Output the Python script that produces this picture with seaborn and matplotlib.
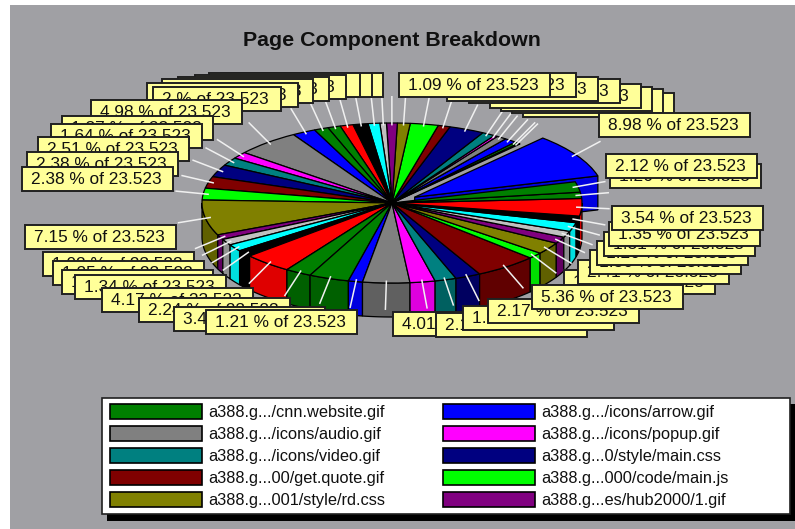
import numpy as np
import matplotlib
matplotlib.use('Agg')
import matplotlib.pyplot as plt
from matplotlib.patches import Rectangle, Patch
import seaborn as sns

# slices counter-clockwise, starting at the big blue one
slice_colors = ['#0000ff', '#008000', '#008000', '#0000ff', '#808080', '#ff00ff', '#008080',
                '#000080', '#800000', '#00ff00', '#808000', '#800080', '#c0c0c0', '#00ffff',
                '#000000', '#ff0000', '#008000', '#008000', '#0000ff', '#808080', '#ff00ff',
                '#008080', '#000080', '#800000', '#00ff00', '#808000', '#800080', '#c0c0c0',
                '#00ffff', '#000000', '#ff0000', '#008000', '#008000', '#0000ff', '#808080',
                '#ff00ff', '#008080', '#000080', '#800000', '#00ff00', '#808000', '#800080',
                '#c0c0c0', '#00ffff', '#000000', '#ff0000', '#008000', '#008000']
slice_values = [8.98, 0.19, 0.36, 1.03, 0.86, 0.31, 1.11, 3.0, 1.03, 2.39, 1.09, 0.92,
                0.56, 1.0, 1.28, 1.11, 1.08, 1.22, 2.0, 5.5, 1.37, 1.64, 2.51, 2.38,
                2.38, 7.15, 1.0, 1.25, 1.42, 1.34, 4.17, 2.24, 3.42, 1.21, 4.01, 2.14,
                1.83, 2.17, 5.36, 1.26, 2.41, 1.36, 1.26, 1.81, 1.35, 3.54, 1.26, 2.12]

legend_names = ['a388.g.../cnn.website.gif', 'a388.g.../icons/audio.gif', 'a388.g.../icons/video.gif',
                'a388.g...00/get.quote.gif', 'a388.g...001/style/rd.css', 'a388.g.../icons/arrow.gif',
                'a388.g.../icons/popup.gif', 'a388.g...0/style/main.css', 'a388.g...000/code/main.js',
                'a388.g...es/hub2000/1.gif']
legend_colors = ['#008000', '#808080', '#008080', '#800000', '#808000',
                 '#0000ff', '#ff00ff', '#000080', '#00ff00', '#800080']

# label boxes, back to front
box_pct = ['1.28', '1.08', '1.11', '1.28', '1.01', '0.56', '0.92', '2', '4.98', '1.37', '1.64',
           '2.51', '2.38', '2.38',
           '1.03', '0.86', '1.31', '1.11', '3.01', '1.03', '2.39', '1.09', '8.98',
           '1.26', '2.12',
           '4.01', '2.14', '1.83', '2.17', '1.26', '2.41', '1.36', '1.26', '1.81', '1.35', '3.54', '5.36',
           '7.15', '1.02', '1.25', '1.42', '1.34', '4.17', '2.24', '3.42', '1.21']
box_left = [232, 221, 209, 195, 178, 162, 147, 153, 91, 62, 51, 38, 27, 22,
            523, 512, 501, 490, 469, 447, 425, 399, 599,
            610, 606,
            393, 436, 463, 488, 564, 578, 590, 597, 604, 609, 612, 532,
            25, 43, 53, 62, 75, 102, 139, 174, 206]
box_top = [73, 73, 73, 75, 77, 79, 83, 87, 100, 116, 124, 137, 152, 167,
           93, 89, 87, 84, 79, 77, 73, 73, 113,
           164, 154,
           312, 313, 306, 299, 270, 260, 250, 241, 232, 222, 206, 285,
           225, 252, 261, 270, 275, 288, 298, 307, 310]

sns.set_theme(style='white')
plt.rcParams['font.family'] = ['Liberation Sans', 'DejaVu Sans']

fig = plt.figure(figsize=(7.95, 5.29), dpi=100, facecolor='white')

bg = fig.add_axes([0, 0, 1, 1])
bg.set_xlim(0, 795)
bg.set_ylim(529, 0)
bg.axis('off')
bg.add_patch(Rectangle((10, 5), 785, 524, fc='#a0a0a4', ec='none'))
bg.text(392, 41, 'Page Component Breakdown', ha='center', va='center',
        fontsize=15.4, fontweight='bold', color='#101010')

# pie axes: data +-1 falls on the ellipse of the top face
cx, cy, rx, ry, depth = 392, 203, 190, 80, 34
ax = fig.add_axes([0, 0, 1, 1], facecolor='none')
explode = [0.14] + [0] * (len(slice_values) - 1)
wedges, _ = ax.pie(slice_values, colors=sns.color_palette(slice_colors), startangle=15.4,
                   explode=explode, normalize=True,
                   wedgeprops={'edgecolor': 'black', 'linewidth': 0.9, 'zorder': 3})
ax.set_aspect('auto')
ax.set_xlim(-cx / rx, (795 - cx) / rx)
ax.set_ylim((cy - 529) / ry, cy / ry)
ax.axis('off')


def darker(color):
    r, g, b = matplotlib.colors.to_rgb(color)
    return tuple(0.875 * c if c > 0.9 else 0.75 * c for c in (r, g, b))


d = depth / ry
# walls of the front half
for w, color in zip(wedges, slice_colors):
    t1, t2 = w.theta1 % 360, w.theta2 % 360
    if t2 < t1:
        t2 += 360
    t1, t2 = max(t1, 180), min(t2, 360)
    if t2 <= t1:
        continue
    th = np.radians(np.linspace(t1, t2, 30))
    x = np.cos(th)
    y = np.sin(th)
    ax.fill(np.r_[x, x[::-1]], np.r_[y, y[::-1] - d], fc=darker(color), ec='black', lw=0.9, zorder=2)

# cut face of the pulled out slice
big = wedges[0]
a = np.radians(big.theta1)
ex, ey = big.center
ax.fill([ex, ex + np.cos(a), ex + np.cos(a), ex], [ey, ey + np.sin(a), ey + np.sin(a) - d, ey - d],
        fc='#0000e0', ec='black', lw=0.9, zorder=1)

# white leader lines
for w in wedges:
    mid = np.radians((w.theta1 + w.theta2) / 2)
    ex, ey = w.center
    ax.plot([ex + 0.97 * np.cos(mid), ex + (1 + 28 / rx) * np.cos(mid)],
            [ey + 0.97 * np.sin(mid), ey + (1 + 27 / ry) * np.sin(mid)],
            color='#f0f0f0', lw=1.1, zorder=4, solid_capstyle='butt')

# label boxes sit above everything
top = fig.add_axes([0, 0, 1, 1], facecolor='none')
top.set_xlim(0, 795)
top.set_ylim(529, 0)
top.axis('off')
for i, (pct, left, y) in enumerate(zip(box_pct, box_left, box_top)):
    width = 128 if len(pct) == 1 else 151
    top.add_patch(Rectangle((left, y), width, 24, fc='#ffff99', ec='#202020', lw=1.4, zorder=10 + i * 2))
    t = top.text(left + 9, y + 12.5, pct + ' % of 23.523', ha='left', va='center', fontsize=12.45,
                 color='#101010', zorder=11 + i * 2)
    t.set_clip_path(Rectangle((left, y), width, 24, transform=top.transData))

# legend frame and shadow
top.add_patch(Rectangle((107, 404), 688, 117, fc='black', ec='none', zorder=200))
top.add_patch(Rectangle((102, 398), 688, 116, fc='white', ec='#202020', lw=1.2, zorder=201))
handles = [Patch(fc=c, ec='black', lw=1.2) for c in legend_colors]
leg = top.legend(handles, legend_names, ncol=2, frameon=False, loc='upper left',
                 bbox_to_anchor=(110 / 795, 1 - 404 / 529), bbox_transform=fig.transFigure,
                 borderaxespad=0, borderpad=0, fontsize=11.75, handlelength=5.65, handleheight=1.0,
                 labelspacing=0.38, handletextpad=0.36, columnspacing=3.55, labelcolor='#101010')
leg.set_zorder(202)

fig.savefig('out.png', dpi=100, facecolor='white')
